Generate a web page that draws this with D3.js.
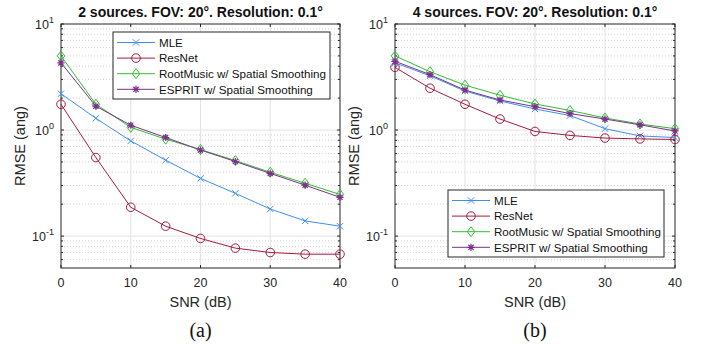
<!DOCTYPE html>
<html>
<head>
<meta charset="utf-8">
<script src="https://cdn.jsdelivr.net/npm/d3@7"></script>
<style>
  body { margin: 0; background: #fff; }
</style>
</head>
<body>
<div id="chart"></div>
<script>
const width = 702;
const height = 345;
const sans = "'Liberation Sans', Arial, sans-serif";

// SNR values (dB)
const snr = [0, 5, 10, 15, 20, 25, 30, 35, 40];
const methods = ["MLE", "ResNet", "RootMusic w/ Spatial Smoothing", "ESPRIT w/ Spatial Smoothing"];

// panel (a): 2 sources
const mleA = [2.2, 1.29, 0.79, 0.52, 0.35, 0.253, 0.18, 0.139, 0.124];
const resnetA = [1.75, 0.55, 0.187, 0.124, 0.095, 0.077, 0.070, 0.0675, 0.0675];
const rootA = [5.0, 1.75, 1.06, 0.82, 0.655, 0.515, 0.40, 0.315, 0.247];
const espritA = [4.3, 1.68, 1.11, 0.85, 0.648, 0.505, 0.39, 0.302, 0.232];

// panel (b): 4 sources
const mleB = [4.3, 3.25, 2.33, 1.88, 1.58, 1.37, 1.03, 0.88, 0.85];
const resnetB = [3.9, 2.48, 1.75, 1.27, 0.97, 0.89, 0.84, 0.825, 0.815];
const rootB = [5.0, 3.55, 2.65, 2.13, 1.76, 1.53, 1.3, 1.14, 1.03];
const espritB = [4.45, 3.33, 2.38, 1.92, 1.66, 1.43, 1.27, 1.12, 0.98];

const titles = ["2 sources. FOV: 20°. Resolution: 0.1°", "4 sources. FOV: 20°. Resolution: 0.1°"];
const captions = ["(a)", "(b)"];
const xTicks = [0, 10, 20, 30, 40];

const colors = ["#3d8ff0", "#a51c3c", "#2fbf2f", "#7e2f8e"];
const markers = ["x", "o", "d", "*"];

const svg = d3.select("#chart").append("svg")
    .attr("width", width)
    .attr("height", height)
    .style("font-family", sans);

function drawMarker(g, type, x, y, color) {
    if (type === "x") {
        const s = 3.2;
        g.append("path").attr("d", `M${x - s},${y - s}L${x + s},${y + s}M${x - s},${y + s}L${x + s},${y - s}`)
            .attr("stroke", color).attr("stroke-width", 1).attr("fill", "none");
    } else if (type === "o") {
        g.append("circle").attr("cx", x).attr("cy", y).attr("r", 4.3)
            .attr("stroke", color).attr("stroke-width", 1).attr("fill", "none");
    } else if (type === "d") {
        const s = 5;
        g.append("path").attr("d", `M${x},${y - s}L${x + s * 0.75},${y}L${x},${y + s}L${x - s * 0.75},${y}Z`)
            .attr("stroke", color).attr("stroke-width", 1).attr("fill", "none");
    } else {
        const s = 3.6;
        let d = `M${x - s},${y}L${x + s},${y}M${x},${y - s}L${x},${y + s}`;
        d += `M${x - s * 0.72},${y - s * 0.72}L${x + s * 0.72},${y + s * 0.72}M${x - s * 0.72},${y + s * 0.72}L${x + s * 0.72},${y - s * 0.72}`;
        g.append("path").attr("d", d).attr("stroke", color).attr("stroke-width", 1.2).attr("fill", "none");
    }
}

function drawPanel(opt) {
    const { x0, x1, y0, y1, series, title, caption, legend } = opt;
    const xScale = d3.scaleLinear().domain([0, 40]).range([x0, x1]);
    const yScale = d3.scaleLog().domain([0.05, 10]).range([y1, y0]);
    const g = svg.append("g");

    // minor grid (dotted)
    const minor = [];
    [0.01, 0.1, 1].forEach(dec => {
        for (let k = 2; k <= 9; k++) {
            const v = dec * k;
            if (v > 0.05 + 1e-9 && v < 10) minor.push(v);
        }
    });
    g.selectAll(".minor").data(minor).join("line")
        .attr("x1", x0).attr("x2", x1)
        .attr("y1", d => yScale(d)).attr("y2", d => yScale(d))
        .attr("stroke", "#c8c8c8").attr("stroke-width", 0.8).attr("stroke-dasharray", "1,2");

    // major grid
    g.selectAll(".hmaj").data([0.1, 1]).join("line")
        .attr("x1", x0).attr("x2", x1)
        .attr("y1", d => yScale(d)).attr("y2", d => yScale(d))
        .attr("stroke", "#e3e3e3").attr("stroke-width", 1);
    g.selectAll(".vmaj").data([10, 20, 30]).join("line")
        .attr("x1", d => xScale(d)).attr("x2", d => xScale(d))
        .attr("y1", y0).attr("y2", y1)
        .attr("stroke", "#e3e3e3").attr("stroke-width", 1);

    // axis box
    g.append("rect").attr("x", x0).attr("y", y0).attr("width", x1 - x0).attr("height", y1 - y0)
        .attr("fill", "none").attr("stroke", "#262626").attr("stroke-width", 1);

    // x ticks (inward, bottom and top)
    xTicks.forEach(t => {
        const x = xScale(t);
        g.append("line").attr("x1", x).attr("x2", x).attr("y1", y1).attr("y2", y1 - 3).attr("stroke", "#262626");
        g.append("line").attr("x1", x).attr("x2", x).attr("y1", y0).attr("y2", y0 + 3).attr("stroke", "#262626");
        g.append("text").attr("x", x).attr("y", y1 + 19).attr("text-anchor", "middle")
            .attr("font-size", 12.5).attr("fill", "#262626").text(t);
    });

    // y ticks
    const ymaj = [0.1, 1, 10];
    minor.concat(ymaj).forEach(v => {
        const y = yScale(v);
        const len = ymaj.includes(v) ? 3 : 2;
        g.append("line").attr("x1", x0).attr("x2", x0 + len).attr("y1", y).attr("y2", y).attr("stroke", "#262626");
        g.append("line").attr("x1", x1).attr("x2", x1 - len).attr("y1", y).attr("y2", y).attr("stroke", "#262626");
    });
    ymaj.forEach(v => {
        const y = yScale(v);
        const t = g.append("text").attr("x", x0 - 7).attr("y", y + 5).attr("text-anchor", "end")
            .attr("font-size", 12.5).attr("fill", "#262626");
        t.append("tspan").text("10");
        t.append("tspan").attr("font-size", 9).attr("dy", -6).text(Math.round(Math.log10(v)));
    });

    // axis labels
    g.append("text").attr("x", (x0 + x1) / 2).attr("y", y1 + 39).attr("text-anchor", "middle")
        .attr("font-size", 14.5).attr("fill", "#262626").text("SNR (dB)");
    g.append("text").attr("transform", `translate(${x0 - 36},${(y0 + y1) / 2}) rotate(-90)`)
        .attr("text-anchor", "middle").attr("font-size", 14.5).attr("fill", "#262626").text("RMSE (ang)");
    g.append("text").attr("x", (x0 + x1) / 2).attr("y", 17).attr("text-anchor", "middle")
        .attr("font-size", 14).attr("font-weight", "bold").attr("fill", "#111").text(title);
    g.append("text").attr("x", (x0 + x1) / 2).attr("y", 337).attr("text-anchor", "middle")
        .style("font-family", "'Liberation Serif', 'Times New Roman', serif")
        .attr("font-size", 20).attr("fill", "#111").text(caption);

    // series
    const line = d3.line().x((d, i) => xScale(snr[i])).y(d => yScale(d));
    series.forEach((vals, si) => {
        g.append("path").datum(vals).attr("d", line)
            .attr("fill", "none").attr("stroke", colors[si]).attr("stroke-width", 1);
        vals.forEach((v, i) => drawMarker(g, markers[si], xScale(snr[i]), yScale(v), colors[si]));
    });

    // legend
    const lg = g.append("g");
    lg.append("rect").attr("x", legend.x).attr("y", legend.y).attr("width", legend.w).attr("height", legend.h)
        .attr("fill", "#fff").attr("stroke", "#262626").attr("stroke-width", 1);
    methods.forEach((m, i) => {
        const y = legend.y + 10.5 + i * 15.6;
        lg.append("line").attr("x1", legend.x + 4).attr("x2", legend.x + 42).attr("y1", y).attr("y2", y)
            .attr("stroke", colors[i]).attr("stroke-width", 1);
        drawMarker(lg, markers[i], legend.x + 23, y, colors[i]);
        lg.append("text").attr("x", legend.x + 46).attr("y", y + 4.2).attr("font-size", 11.6)
            .attr("fill", "#111").text(m);
    });
}

drawPanel({
    x0: 61, x1: 340, y0: 24, y1: 268,
    series: [mleA, resnetA, rootA, espritA],
    title: titles[0], caption: captions[0],
    legend: { x: 113, y: 32, w: 217, h: 67 }
});
drawPanel({
    x0: 395, x1: 675, y0: 24, y1: 268,
    series: [mleB, resnetB, rootB, espritB],
    title: titles[1], caption: captions[1],
    legend: { x: 448, y: 190, w: 216, h: 67 }
});
</script>
</body>
</html>
